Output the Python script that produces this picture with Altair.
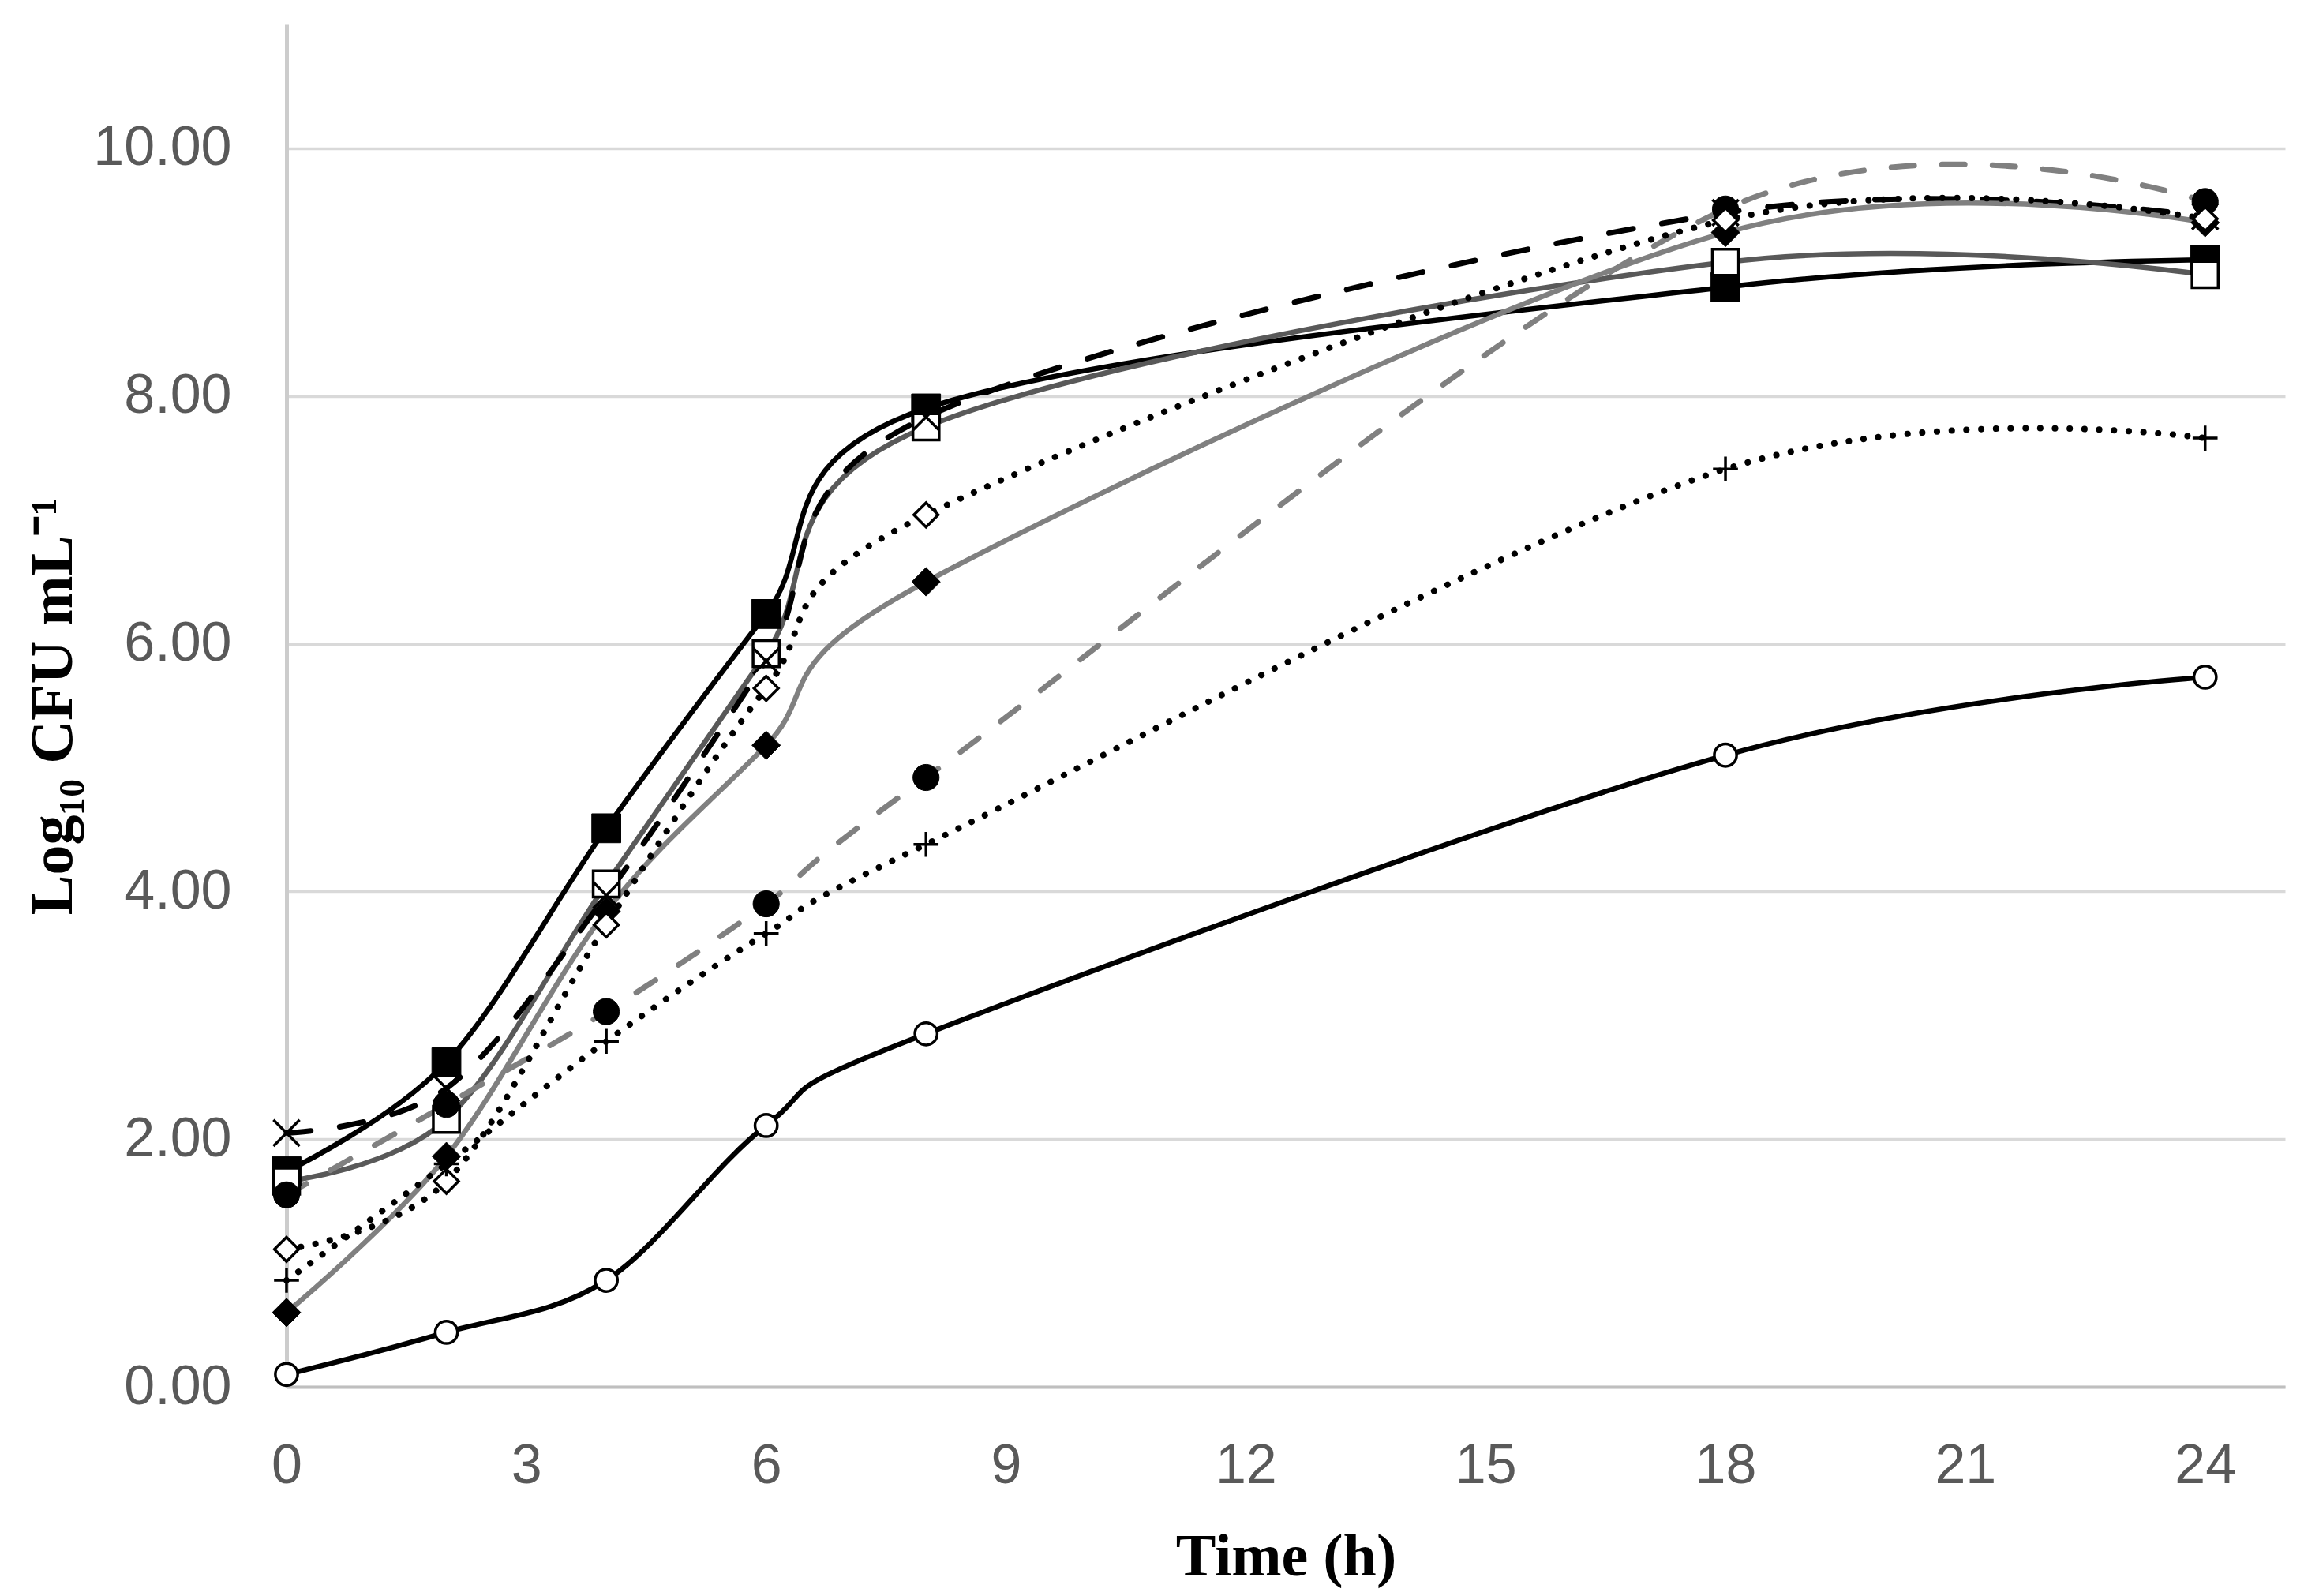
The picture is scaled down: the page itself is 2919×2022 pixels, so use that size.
import altair as alt
import pandas as pd

# ---- data ----
times = [0, 2, 4, 6, 8, 18, 24]
open_circle = [0.10, 0.44, 0.86, 2.11, 2.85, 5.10, 5.73]
filled_square = [1.74, 2.62, 4.51, 6.24, 7.90, 8.88, 9.10]
open_square = [1.66, 2.16, 4.06, 5.92, 7.75, 9.08, 8.98]
cross_x = [2.05, 2.41, 3.97, 5.86, 7.83, 9.48, 9.45]
filled_diamond = [0.60, 1.86, 3.84, 5.18, 6.50, 9.32, 9.40]
filled_circle = [1.55, 2.28, 3.03, 3.90, 4.92, 9.51, 9.57]
open_diamond = [1.11, 1.66, 3.73, 5.64, 7.04, 9.42, 9.43]
plus = [0.86, 1.80, 2.79, 3.66, 4.38, 7.41, 7.66]

x_ticks = [0, 3, 6, 9, 12, 15, 18, 21, 24]
y_ticks = [0, 2, 4, 6, 8, 10]

X_PATH = "M-1,-1L1,1M-1,1L1,-1"
PLUS_PATH = "M-1,0L1,0M0,-1L0,1"

series = [
    dict(v=open_circle, color="#000000", dash=None, width=6.5, cap="butt",
         shape="circle", fill="white", size=800, sw=3.5),
    dict(v=filled_square, color="#000000", dash=None, width=6.5, cap="butt",
         shape="square", fill="black", size=1350, sw=1),
    dict(v=open_square, color="#595959", dash=None, width=6.5, cap="butt",
         shape="square", fill="white", size=1100, sw=3.5),
    dict(v=cross_x, color="#000000", dash=[31, 37], width=7, cap="round",
         shape=X_PATH, fill=None, size=1100, sw=3.5),
    dict(v=filled_diamond, color="#808080", dash=None, width=6.5, cap="butt",
         shape="diamond", fill="black", size=1300, sw=1),
    dict(v=filled_circle, color="#808080", dash=[29, 35], width=7, cap="round",
         shape="circle", fill="black", size=1100, sw=1),
    dict(v=open_diamond, color="#000000", dash=[0.1, 18.6], width=8, cap="round",
         shape="diamond", fill="white", size=950, sw=3.5),
    dict(v=plus, color="#000000", dash=[0.1, 18.6], width=8, cap="round",
         shape=PLUS_PATH, fill=None, size=1000, sw=3.5),
]

x_enc = alt.X(
    "t:Q",
    scale=alt.Scale(domain=[0, 25], nice=False, zero=False),
    axis=alt.Axis(
        values=x_ticks, title="Time (h)", grid=False, ticks=False, tickSize=0,
        labelPadding=66, labelFlush=False, domainColor="#bfbfbf", domainWidth=4,
        titleY=238, titleBaseline="alphabetic",
    ),
)
y_enc = alt.Y(
    "v:Q",
    scale=alt.Scale(domain=[0, 11], nice=False, zero=False),
    axis=alt.Axis(
        values=y_ticks, format=".2f", title="Log₁₀ CFU mL⁻¹", grid=True,
        gridColor="#d9d9d9", gridWidth=3.5, ticks=False, tickSize=0,
        labelPadding=70, labelFlush=False, domainColor="#cccccc", domainWidth=5,
        titleAngle=270, titleX=-273, titleY=863, titleAlign="center",
        titleBaseline="alphabetic",
    ),
)

lines = []
points = []
for s in series:
    df = pd.DataFrame({"t": times, "v": s["v"]})
    base = alt.Chart(df).encode(x=x_enc, y=y_enc)
    line_kw = dict(color=s["color"], strokeWidth=s["width"],
                   interpolate="cardinal", strokeCap=s["cap"])
    if s["dash"] is not None:
        line_kw["strokeDash"] = s["dash"]
    lines.append(base.mark_line(**line_kw))
    pt_kw = dict(shape=s["shape"], size=s["size"], stroke="black",
                 strokeWidth=s["sw"], opacity=1)
    if s["fill"] is not None:
        pt_kw["fill"] = s["fill"]
        pt_kw["fillOpacity"] = 1
    else:
        pt_kw["filled"] = False
    points.append(base.mark_point(**pt_kw))

chart = alt.layer(*lines, *points).properties(
    width=2532,
    height=1726,
    autosize=alt.AutoSizeParams(type="none"),
    padding={"left": 355, "top": 23, "right": 16, "bottom": 262},
).configure_view(stroke=None).configure_axis(
    labelFont="Liberation Sans",
    labelFontSize=70,
    labelColor="#595959",
    titleFont="Liberation Serif",
    titleFontSize=76,
    titleFontWeight="bold",
    titleColor="#000000",
)

chart.save("out.html", embed_options={"renderer": "svg", "actions": False})
